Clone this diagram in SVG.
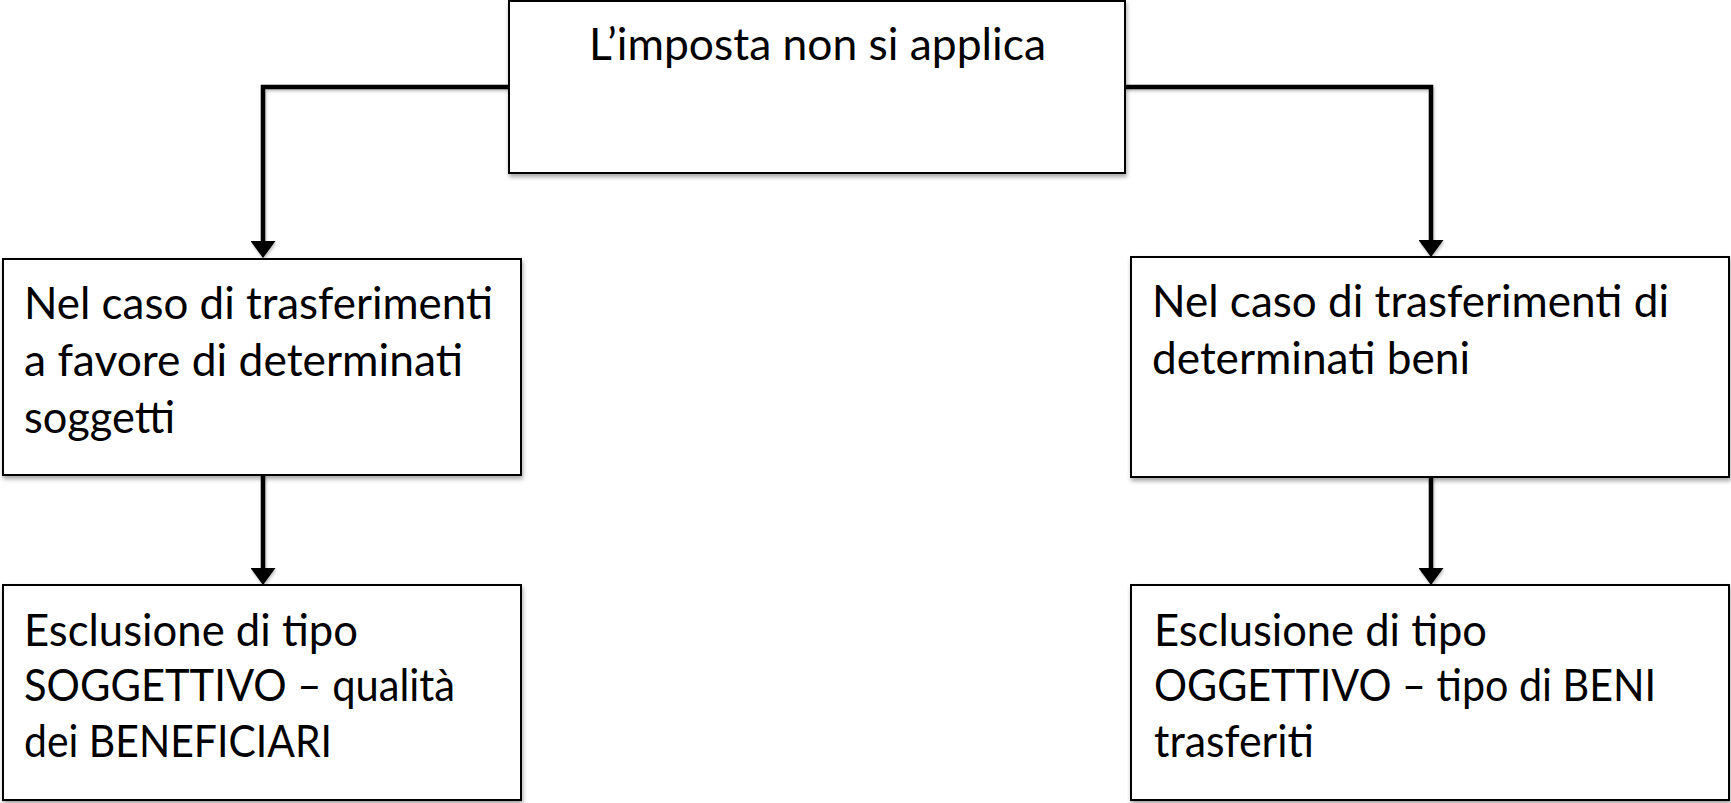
<svg xmlns="http://www.w3.org/2000/svg" width="1731" height="803" viewBox="0 0 1731 803">
  <style>
    .box { fill: #ffffff; stroke: #000000; stroke-width: 2; filter: url(#shadow); }
    .lbl { font-family: Lato, "Open Sans", "Liberation Sans", sans-serif; font-size: 44px; fill: #000000; }
    .conn { fill: none; stroke: #000000; stroke-width: 4.5; stroke-linejoin: miter; stroke-linecap: butt; marker-end: url(#arrow); filter: url(#lshadow); }
  </style>
  <defs>
    <filter id="shadow" x="-5%" y="-5%" width="112%" height="120%">
      <feDropShadow dx="1" dy="3" stdDeviation="2" flood-color="#000" flood-opacity="0.35"/>
    </filter>
    <filter id="lshadow" filterUnits="userSpaceOnUse" x="0" y="0" width="1731" height="803">
      <feDropShadow dx="1" dy="2" stdDeviation="1.5" flood-color="#000" flood-opacity="0.25"/>
    </filter>
    <marker id="arrow" markerUnits="userSpaceOnUse" markerWidth="17" markerHeight="25" refX="5" refY="12.5" orient="auto" viewBox="0 0 17 25">
      <path d="M0,0 L17,12.5 L0,25 Z" fill="#000000"/>
    </marker>
  </defs>

  <rect width="1731" height="803" fill="#ffffff"/>

  <g id="connectors">
    <path class="conn" d="M509,87 H263 V246"/>
    <path class="conn" d="M1125,87 H1431 V245"/>
    <path class="conn" d="M263,475 V573"/>
    <path class="conn" d="M1431,477 V573"/>
  </g>

  <g id="node-top">
    <rect class="box" x="509" y="1" width="616" height="172"/>
    <text class="lbl" x="589" y="60" textLength="457" lengthAdjust="spacingAndGlyphs">L’imposta non si applica</text>
  </g>

  <g id="node-soggetti">
    <rect class="box" x="3" y="259" width="518" height="216"/>
    <text class="lbl" x="24" y="319" textLength="469" lengthAdjust="spacingAndGlyphs">Nel caso di trasferimenti</text>
    <text class="lbl" x="24" y="376" textLength="439" lengthAdjust="spacingAndGlyphs">a favore di determinati</text>
    <text class="lbl" x="24" y="433" textLength="151" lengthAdjust="spacingAndGlyphs">soggetti</text>
  </g>

  <g id="node-beni">
    <rect class="box" x="1131" y="257" width="598" height="220"/>
    <text class="lbl" x="1152" y="317" textLength="517" lengthAdjust="spacingAndGlyphs">Nel caso di trasferimenti di</text>
    <text class="lbl" x="1152" y="374" textLength="318" lengthAdjust="spacingAndGlyphs">determinati beni</text>
  </g>

  <g id="node-soggettivo">
    <rect class="box" x="3" y="585" width="518" height="215"/>
    <text class="lbl" x="24" y="646" textLength="334" lengthAdjust="spacingAndGlyphs">Esclusione di tipo</text>
    <text class="lbl" x="24" y="701" textLength="431" lengthAdjust="spacingAndGlyphs">SOGGETTIVO – qualità</text>
    <text class="lbl" x="24" y="757" textLength="308" lengthAdjust="spacingAndGlyphs">dei BENEFICIARI</text>
  </g>

  <g id="node-oggettivo">
    <rect class="box" x="1131" y="585" width="598" height="215"/>
    <text class="lbl" x="1154" y="646" textLength="333" lengthAdjust="spacingAndGlyphs">Esclusione di tipo</text>
    <text class="lbl" x="1154" y="701" textLength="502" lengthAdjust="spacingAndGlyphs">OGGETTIVO – tipo di BENI</text>
    <text class="lbl" x="1154" y="757" textLength="160" lengthAdjust="spacingAndGlyphs">trasferiti</text>
  </g>
</svg>
